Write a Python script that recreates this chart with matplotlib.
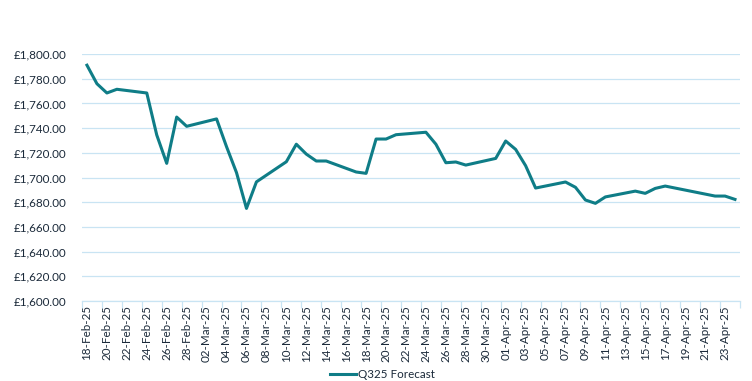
import pandas as pd
import numpy as np
import matplotlib.pyplot as plt
from matplotlib.ticker import FuncFormatter, FixedLocator

# Forecast values (business days only)
dates = ["2025-02-18", "2025-02-19", "2025-02-20", "2025-02-21", "2025-02-24",
         "2025-02-25", "2025-02-26", "2025-02-27", "2025-02-28", "2025-03-03",
         "2025-03-04", "2025-03-05", "2025-03-06", "2025-03-07", "2025-03-10",
         "2025-03-11", "2025-03-12", "2025-03-13", "2025-03-14", "2025-03-17",
         "2025-03-18", "2025-03-19", "2025-03-20", "2025-03-21", "2025-03-24",
         "2025-03-25", "2025-03-26", "2025-03-27", "2025-03-28", "2025-03-31",
         "2025-04-01", "2025-04-02", "2025-04-03", "2025-04-04", "2025-04-07",
         "2025-04-08", "2025-04-09", "2025-04-10", "2025-04-11", "2025-04-14",
         "2025-04-15", "2025-04-16", "2025-04-17", "2025-04-22", "2025-04-23",
         "2025-04-24"]
q325 = [1791.0, 1776.0, 1768.5, 1771.5, 1768.5,
        1734.5, 1711.5, 1749.0, 1741.5, 1747.5,
        1725.0, 1704.0, 1675.0, 1696.5, 1712.8,
        1727.0, 1719.0, 1713.4, 1713.4, 1704.5,
        1703.4, 1731.2, 1731.2, 1734.7, 1736.7,
        1727.0, 1712.0, 1712.6, 1710.1, 1715.5,
        1729.6, 1722.8, 1709.6, 1691.5, 1696.4,
        1692.1, 1681.8, 1679.1, 1684.3, 1689.0,
        1687.2, 1691.2, 1693.1, 1685.0, 1685.0,
        1682.3]

start = pd.Timestamp("2025-02-18")
end = pd.Timestamp("2025-04-24")
all_days = pd.date_range(start, end, freq="D")
tick_labels = [d.strftime("%d-%b-%y") for d in all_days[::2]]

x = (pd.to_datetime(dates) - start).days.values
n_days = len(all_days)

text_col = "#1b2a3a"
grid_col = "#c9e4f3"
line_col = "#0f7d87"

plt.rcParams["font.family"] = ["Lato", "DejaVu Sans"]

fig = plt.figure(figsize=(7.52, 3.81), dpi=100)
ax = fig.add_axes([0.109, 0.21, 0.875, 0.648])

ax.plot(x, q325, color=line_col, linewidth=2.2, label="Q325 Forecast", solid_joinstyle="round")

ax.set_xlim(-0.5, n_days - 0.5)
ax.set_ylim(1600, 1800)
ax.set_yticks(np.arange(1600, 1801, 20))
ax.yaxis.set_major_formatter(FuncFormatter(lambda v, p: "£{:,.2f}".format(v)))
ax.grid(axis="y", color=grid_col, linewidth=0.9)
ax.set_axisbelow(True)

ax.set_xticks(np.arange(0, n_days, 2))
ax.set_xticklabels(tick_labels, rotation=90)
ax.xaxis.set_minor_locator(FixedLocator(np.arange(-0.5, n_days, 2)))
ax.tick_params(axis="x", which="major", length=0, pad=3, labelsize=8.4, labelcolor=text_col)
ax.tick_params(axis="x", which="minor", length=5, color=grid_col, width=0.9)
ax.tick_params(axis="y", length=0, pad=11, labelsize=8.4, labelcolor=text_col)

for side in ["top", "right", "left"]:
    ax.spines[side].set_visible(False)
ax.spines["bottom"].set_color(grid_col)
ax.spines["bottom"].set_linewidth(0.9)

fig.legend(loc="lower center", bbox_to_anchor=(0.508, -0.025), frameon=False,
           fontsize=8.4, handlelength=2.3, handletextpad=0.1, labelcolor=text_col)

plt.savefig("out.png", dpi=100)
plt.close()
